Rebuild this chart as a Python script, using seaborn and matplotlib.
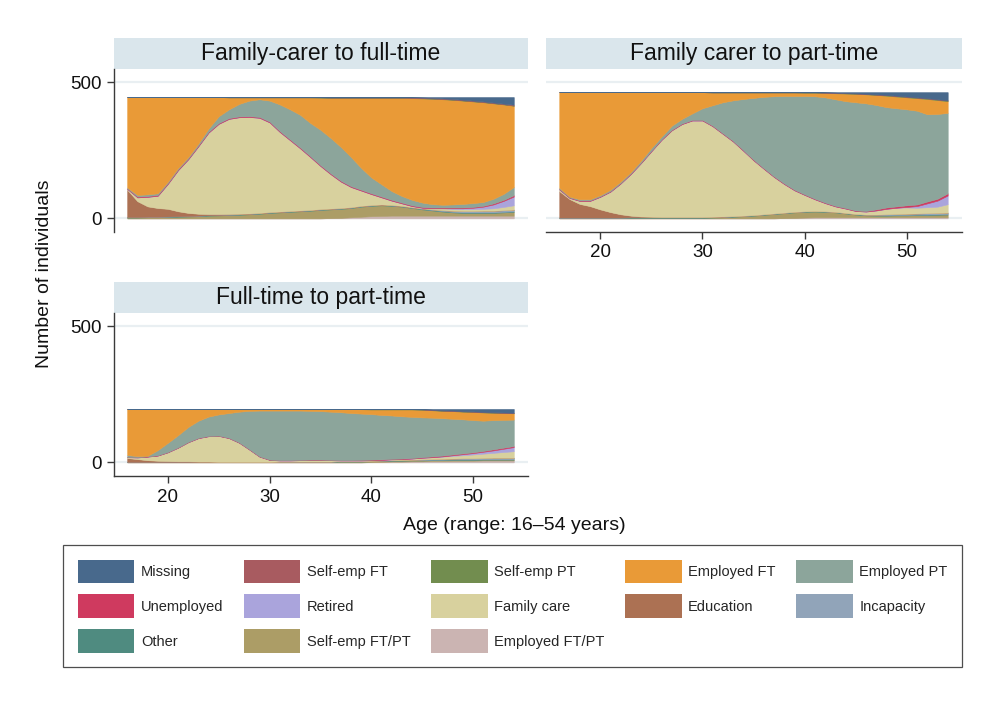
import matplotlib
matplotlib.use("Agg")
import matplotlib.pyplot as plt
from matplotlib.patches import Rectangle, Patch
import seaborn as sns

# ---------------------------------------------------------------- data
ages = list(range(16, 55))

states = ["Missing", "Self-emp FT", "Self-emp PT", "Employed FT", "Employed PT",
          "Unemployed", "Retired", "Family care", "Education", "Incapacity",
          "Other", "Self-emp FT/PT", "Employed FT/PT"]
state_colors = ["#48698c", "#a85b60", "#728d4f", "#e99a37", "#8ca59b",
                "#cf3a5f", "#aaa4dc", "#d8d19e", "#ac7153", "#91a4b9",
                "#4f8b80", "#ac9d66", "#cbb4b2"]
panel_titles = ["Family-carer to full-time", "Family carer to part-time",
                "Full-time to part-time"]
y_ticks = [0, 500]
x_ticks = [20, 30, 40, 50]

# Family-carer to full-time
p1_missing = [0] * 28 + [1, 2, 3, 5, 7, 10, 13, 16, 20, 24, 28]
p1_selfemp_ft = [0] * 10 + [1] * 10 + [2] * 18 + [3]
p1_selfemp_pt = [0] * 19 + [1] * 20
p1_employed_ft = [332, 359, 357, 353, 310, 260, 220, 170, 115, 70,
                  44, 24, 12, 7, 12, 26, 44, 64, 94, 118,
                  147, 180, 217, 257, 292, 317, 342, 360, 373, 382,
                  387, 387, 384, 379, 373, 366, 350, 328, 298]
p1_employed_pt = [3, 6, 6, 6, 5, 5, 5, 7, 12, 25,
                  32, 46, 57, 65, 77, 98, 110, 120, 122, 130,
                  130, 124, 107, 80, 58, 45, 32, 24, 20, 16,
                  12, 10, 11, 13, 14, 14, 17, 22, 30]
p1_unemployed = [2] + [3] * 35 + [4, 4, 5]
p1_retired = [0] * 32 + [2, 3, 5, 8, 14, 22, 32]
p1_family_care = [3, 14, 35, 45, 92, 151, 197, 248, 299, 331,
                  349, 354, 354, 349, 329, 292, 260, 228, 194, 158,
                  126, 97, 74, 56, 40, 26, 16, 9, 4, 2,
                  4, 7, 7, 7, 7, 7, 9, 12, 16]
p1_education = [100, 58, 38, 32, 28, 18, 11, 7, 4, 3,
                2, 2, 1, 1, 1] + [1] * 15 + [0] * 9
p1_incapacity = [0] * 29 + [1, 2, 3, 4, 5, 5, 6, 6, 6, 6]
p1_other = [2] * 39
p1_selfemp_ftpt = [3, 3, 4, 4, 5, 6, 7, 8, 10, 11,
                   12, 13, 15, 17, 20, 22, 24, 26, 28, 31,
                   32, 33, 34, 37, 38, 39, 36, 33, 28, 23,
                   19, 15, 12, 10, 10, 10, 10, 12, 14]
p1_employed_ftpt = [0] * 20 + [1, 2, 4, 6, 8, 9, 10] + [10] * 12

# Family carer to part-time
p2_missing = [0] * 26 + [1, 2, 3, 4, 6, 8, 10, 13, 16, 19, 22, 26, 30]
p2_selfemp_ft = [0] * 15 + [1] * 24
p2_selfemp_pt = [0] * 24 + [1] * 8 + [2] * 7
p2_employed_ft = [351, 383, 393, 393, 378, 358, 328, 293, 251, 205,
                  163, 123, 98, 78, 59, 47, 36, 29, 24, 20,
                  16, 14, 13, 13, 12, 13, 16, 22, 28, 31,
                  33, 37, 42, 43, 44, 46, 56, 51, 43]
p2_employed_pt = [4, 3, 4, 4, 4, 5, 5, 5, 7, 10,
                  10, 15, 17, 24, 43, 75, 114, 149, 188, 227,
                  262, 294, 321, 344, 361, 376, 386, 391, 392, 397,
                  395, 383, 368, 360, 352, 344, 320, 311, 295]
p2_unemployed = [2] * 31 + [4, 5, 5, 6, 6, 7, 7, 8]
p2_retired = [0] * 34 + [2, 6, 14, 22, 32]
p2_family_care = [6, 4, 11, 19, 46, 75, 113, 153, 196, 240,
                  283, 318, 341, 354, 354, 332, 303, 274, 238, 201,
                  167, 134, 105, 79, 60, 43, 30, 20, 16, 11,
                  11, 15, 20, 23, 23, 21, 22, 23, 31]
p2_education = [97, 68, 50, 42, 30, 20, 12, 6, 3, 2] + [1] * 7 + [0] * 22
p2_incapacity = [0] * 30 + [1, 2, 3, 3, 4, 4, 5, 5, 5]
p2_other = [2] * 39
p2_selfemp_ftpt = [1] * 7 + [2] * 8 + [3, 4, 6, 8, 10, 13, 16, 18, 20, 21,
                                       21, 20, 18, 14, 10, 7, 6, 6, 7, 7,
                                       8, 8, 9, 10]
p2_employed_ftpt = [0] * 22 + [1, 2, 3] + [4] * 14

# Full-time to part-time
p3_missing = [0] * 29 + [1, 3, 5, 6, 8, 9, 11, 12, 13, 14]
p3_selfemp_ft = [0] * 14 + [1] * 25
p3_selfemp_pt = [0] * 24 + [1] * 15
p3_employed_ft = [169, 173, 172, 151, 124, 96, 66, 43, 28, 20,
                  15, 10, 7, 6, 5, 5, 5, 5, 6, 7,
                  9, 11, 14, 16, 17, 20, 22, 25, 27, 28,
                  27, 27, 28, 28, 30, 30, 27, 25, 23]
p3_employed_pt = [7, 4, 2, 19, 34, 45, 55, 63, 71, 78,
                  91, 113, 141, 168, 180, 182, 182, 181, 179, 178,
                  177, 176, 173, 170, 167, 163, 159, 155, 151, 146,
                  142, 137, 131, 125, 118, 111, 107, 102, 97]
p3_unemployed = [1] * 23 + [2] * 7 + [3] * 6 + [4] * 3
p3_retired = [0] * 31 + [1, 2, 4, 5, 7, 9, 12, 15]
p3_family_care = [3, 6, 13, 19, 32, 50, 70, 86, 93, 95,
                  87, 70, 45, 19, 7, 4, 4, 5, 6, 6,
                  5, 2, 2, 2, 2, 2, 3, 3, 4, 6,
                  7, 8, 10, 11, 14, 16, 18, 21, 24]
p3_education = [14, 10, 6, 4, 3, 2, 2, 1, 1] + [0] * 30
p3_incapacity = [0] * 27 + [1, 1, 2, 2, 3, 3, 4, 4, 4, 5, 5, 5]
p3_other = [1] * 21 + [2] * 18
p3_selfemp_ftpt = [1] * 15 + [2] * 6 + [3] * 18
p3_employed_ftpt = [0] * 24 + [1, 2, 3, 3, 4, 4, 5, 5, 6, 6, 6, 7, 7, 7, 7]

panels = [
    [p1_missing, p1_selfemp_ft, p1_selfemp_pt, p1_employed_ft, p1_employed_pt,
     p1_unemployed, p1_retired, p1_family_care, p1_education, p1_incapacity,
     p1_other, p1_selfemp_ftpt, p1_employed_ftpt],
    [p2_missing, p2_selfemp_ft, p2_selfemp_pt, p2_employed_ft, p2_employed_pt,
     p2_unemployed, p2_retired, p2_family_care, p2_education, p2_incapacity,
     p2_other, p2_selfemp_ftpt, p2_employed_ftpt],
    [p3_missing, p3_selfemp_ft, p3_selfemp_pt, p3_employed_ft, p3_employed_pt,
     p3_unemployed, p3_retired, p3_family_care, p3_education, p3_incapacity,
     p3_other, p3_selfemp_ftpt, p3_employed_ftpt],
]

# ---------------------------------------------------------------- style
sns.set_theme(style="white")
plt.rcParams["font.family"] = ["Liberation Sans", "DejaVu Sans"]
palette = sns.color_palette(state_colors)

W, H = 995, 719
fig = plt.figure(figsize=(W / 100, H / 100), dpi=100)
fig.patch.set_facecolor("white")

strip_color = "#dae6ec"
grid_color = "#e9eff2"
axis_color = "#3a3a3a"
text_color = "#111111"

# axes boxes in pixels: left, top, right, bottom
boxes = [(114, 69, 528, 232), (546, 69, 962, 232), (114, 313, 528, 476)]
show_y = [True, False, True]
show_x = [False, True, True]

for i, (l, t, r, b) in enumerate(boxes):
    ax = fig.add_axes([l / W, 1 - b / H, (r - l) / W, (b - t) / H])
    # stack from the bottom state upwards
    order = list(range(len(states)))[::-1]
    ax.stackplot(ages, [panels[i][k] for k in order],
                 colors=[palette[k] for k in order],
                 edgecolor="face", linewidth=0.4, zorder=2)
    ax.set_xlim(14.7, 55.4)
    ax.set_ylim(-50, 548)
    for yv in y_ticks:
        ax.axhline(yv, color=grid_color, lw=1.6, zorder=1)
    for s in ax.spines.values():
        s.set_visible(False)
    ax.tick_params(axis="both", which="both", length=5, width=1,
                   color=axis_color, labelsize=13.5, labelcolor=text_color, pad=4)
    if show_y[i]:
        ax.spines["left"].set_visible(True)
        ax.spines["left"].set_color(axis_color)
        ax.spines["left"].set_linewidth(1)
        ax.set_yticks(y_ticks)
        ax.set_yticklabels([str(v) for v in y_ticks])
        ax.tick_params(axis="y", left=True)
    else:
        ax.set_yticks([])
    if show_x[i]:
        ax.spines["bottom"].set_visible(True)
        ax.spines["bottom"].set_color(axis_color)
        ax.spines["bottom"].set_linewidth(1)
        ax.set_xticks(x_ticks)
        ax.set_xticklabels([str(v) for v in x_ticks])
        ax.tick_params(axis="x", bottom=True, pad=4)
    else:
        ax.set_xticks([])
    # title strip
    sh = 31 / (b - t)
    ax.add_patch(Rectangle((0, 1), 1, sh, transform=ax.transAxes,
                           facecolor=strip_color, edgecolor="none", clip_on=False))
    ax.text(0.5, 1 + sh / 2, panel_titles[i], transform=ax.transAxes,
            ha="center", va="center", fontsize=16.5, color=text_color)

fig.text(45 / W, 1 - 274 / H, "Number of individuals", rotation=90,
         ha="center", va="center", fontsize=14, color=text_color)
fig.text(514 / W, 1 - 525 / H, "Age (range: 16\u201354 years)",
         ha="center", va="center", fontsize=14, color=text_color)

# legend laid out row by row across five columns
rows_per_col = [3, 3, 3, 2, 2]
legend_order = []
for c in range(5):
    for rrow in range(rows_per_col[c]):
        legend_order.append(rrow * 5 + c)
handles = [Patch(facecolor=palette[k], edgecolor="none") for k in legend_order]
labels = [states[k] for k in legend_order]
leg = fig.legend(handles, labels, ncol=5, loc="upper left",
                 bbox_to_anchor=(63 / W, 1 - 663 / H, 899 / W, 118 / H),
                 mode="expand", borderaxespad=0, fontsize=10.5,
                 handlelength=3.9, handleheight=2.1, handletextpad=0.45,
                 labelspacing=0.78, borderpad=1.0, fancybox=False,
                 frameon=True, columnspacing=1.0)
leg.get_frame().set_edgecolor("#222222")
leg.get_frame().set_linewidth(0.9)

fig.savefig("out.png", dpi=100, facecolor="white")
